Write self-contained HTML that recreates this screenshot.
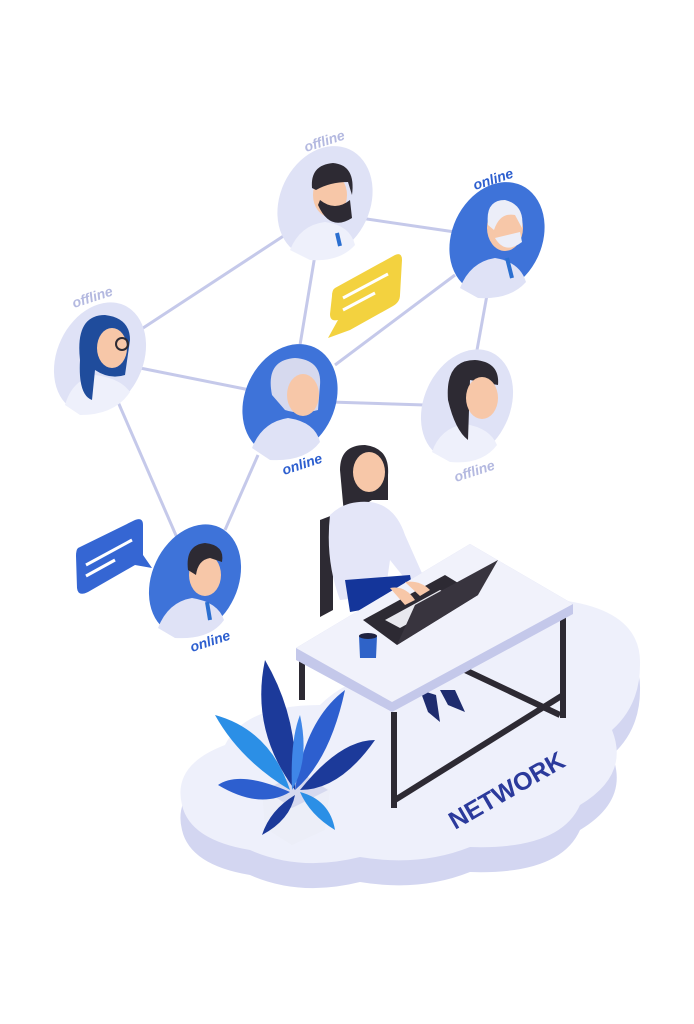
<!DOCTYPE html>
<html><head><meta charset="utf-8"><style>
html,body{margin:0;padding:0;background:#fff;}
svg{display:block}
text{font-family:"Liberation Sans",sans-serif;font-weight:bold;font-style:italic}
</style></head><body>
<svg width="694" height="1024" viewBox="0 0 694 1024" xmlns="http://www.w3.org/2000/svg">
<!-- cloud base -->
<g>
<path d="M182 830 Q172 790 225 770 Q245 730 320 730 Q360 690 430 700 Q470 620 560 625 Q642 635 640 690 Q640 730 612 755 Q630 800 580 830 Q560 875 470 872 Q420 892 360 882 Q300 897 250 875 Q190 865 182 830 Z" fill="#d3d6f1"/>
<path d="M182 805 Q172 765 225 745 Q245 705 320 705 Q360 665 430 675 Q470 595 560 600 Q642 610 640 665 Q640 705 612 730 Q630 775 580 805 Q560 850 470 847 Q420 867 360 857 Q300 872 250 850 Q190 840 182 805 Z" fill="#eef0fb"/>
</g>
<text x="0" y="0" transform="translate(455,830) rotate(-30)" font-size="25" fill="#2b3a9c" style="font-style:normal">NETWORK</text>

<!-- connector lines -->
<g stroke="#c5c9ea" stroke-width="3" fill="none">
<line x1="140" y1="330" x2="285" y2="235"/>
<line x1="315" y1="255" x2="300" y2="345"/>
<line x1="360" y1="218" x2="455" y2="232"/>
<line x1="335" y1="365" x2="455" y2="275"/>
<line x1="140" y1="368" x2="250" y2="390"/>
<line x1="330" y1="402" x2="425" y2="405"/>
<line x1="487" y1="295" x2="477" y2="350"/>
<line x1="115" y1="395" x2="178" y2="540"/>
<line x1="258" y1="455" x2="225" y2="530"/>
</g>

<!-- speech bubbles -->
<path d="M335 288 L395 255 Q402 252 402 260 L400 295 Q400 302 393 306 L350 330 L328 338 L338 320 Q330 322 330 314 L332 296 Q332 290 335 288Z" fill="#f3d23f"/>
<line x1="343" y1="298" x2="388" y2="274" stroke="#fff" stroke-width="3"/>
<line x1="343" y1="310" x2="375" y2="293" stroke="#fff" stroke-width="3"/>
<path d="M78 548 L135 520 Q143 517 143 525 L143 555 L152 568 L135 565 L88 592 Q78 597 77 588 L76 556 Q76 550 78 548Z" fill="#3566d3"/>
<line x1="86" y1="565" x2="132" y2="540" stroke="#fff" stroke-width="3"/>
<line x1="86" y1="576" x2="115" y2="560" stroke="#fff" stroke-width="3"/>

<!-- nodes -->
<g>
 <ellipse cx="325" cy="202" rx="45" ry="58" transform="rotate(25 325 202)" fill="#dfe2f6"/>
 <path d="M290 250 Q300 225 325 222 Q350 225 355 245 Q340 262 310 260Z" fill="#eef0fb"/>
 <ellipse cx="330" cy="195" rx="17" ry="22" fill="#f7c7a8"/>
 <path d="M312 188 Q310 165 333 163 Q356 165 352 195 L348 182 Q330 182 316 190Z" fill="#2d2a33"/>
 <path d="M318 205 Q330 232 352 218 L350 200 Q335 212 320 200Z" fill="#2d2a33"/>
 <line x1="337" y1="233" x2="340" y2="246" stroke="#2b6fd0" stroke-width="4"/>
</g>
<g>
 <ellipse cx="497" cy="238" rx="45" ry="58" transform="rotate(25 497 238)" fill="#3e73d9"/>
 <path d="M460 288 Q470 262 495 258 Q520 262 526 282 Q510 300 478 298Z" fill="#dfe2f6"/>
 <ellipse cx="505" cy="228" rx="18" ry="23" fill="#f7c7a8"/>
 <path d="M488 225 Q485 200 505 200 Q525 205 522 228 L515 215 Q500 212 494 230Z" fill="#eceef8"/>
 <path d="M495 238 Q505 255 522 242 L520 232Z" fill="#eceef8"/>
 <line x1="507" y1="258" x2="512" y2="278" stroke="#2b6fd0" stroke-width="4"/>
</g>
<g>
 <ellipse cx="100" cy="358" rx="43" ry="58" transform="rotate(25 100 358)" fill="#dfe2f6"/>
 <path d="M65 405 Q72 380 95 375 Q120 378 130 392 Q115 415 80 415Z" fill="#eef0fb"/>
 <path d="M80 360 Q75 315 105 315 Q130 318 130 340 L125 375 Q110 380 95 370 L92 400 Q78 395 80 360Z" fill="#1f4c9c"/>
 <ellipse cx="112" cy="348" rx="15" ry="20" fill="#f7c7a8"/>
 <circle cx="122" cy="344" r="6" fill="none" stroke="#2d2a33" stroke-width="2"/>
</g>
<g>
 <ellipse cx="290" cy="400" rx="45" ry="58" transform="rotate(25 290 400)" fill="#3e73d9"/>
 <path d="M252 448 Q262 422 288 418 Q315 422 320 442 Q305 462 270 460Z" fill="#dfe2f6"/>
 <path d="M272 395 Q265 360 295 358 Q322 360 320 385 L318 410 Q300 415 285 410Z" fill="#d6d9ee"/>
 <ellipse cx="303" cy="395" rx="16" ry="21" fill="#f7c7a8"/>
</g>
<g>
 <ellipse cx="467" cy="405" rx="43" ry="58" transform="rotate(25 467 405)" fill="#dfe2f6"/>
 <path d="M432 452 Q440 428 465 424 Q490 428 497 445 Q482 465 450 462Z" fill="#eef0fb"/>
 <path d="M448 400 Q445 360 475 360 Q500 362 498 385 L470 380 L468 440 Q455 430 448 400Z" fill="#2d2a33"/>
 <ellipse cx="482" cy="398" rx="16" ry="21" fill="#f7c7a8"/>
</g>
<g>
 <ellipse cx="195" cy="580" rx="43" ry="58" transform="rotate(25 195 580)" fill="#3e73d9"/>
 <path d="M158 628 Q168 602 192 598 Q218 602 224 620 Q210 640 175 638Z" fill="#dfe2f6"/>
 <ellipse cx="205" cy="575" rx="16" ry="21" fill="#f7c7a8"/>
 <path d="M188 570 Q185 545 205 543 Q225 545 222 562 L210 558 Q198 560 196 575Z" fill="#2d2a33"/>
 <line x1="207" y1="602" x2="210" y2="620" stroke="#2b6fd0" stroke-width="4"/>
</g>

<!-- labels -->
<g font-size="14">
<text x="0" y="0" transform="translate(306,152) rotate(-18)" fill="#b4b9e0">offline</text>
<text x="0" y="0" transform="translate(475,190) rotate(-18)" fill="#2d5fcf">online</text>
<text x="0" y="0" transform="translate(74,308) rotate(-18)" fill="#b4b9e0">offline</text>
<text x="0" y="0" transform="translate(284,475) rotate(-18)" fill="#2d5fcf">online</text>
<text x="0" y="0" transform="translate(456,482) rotate(-18)" fill="#b4b9e0">offline</text>
<text x="0" y="0" transform="translate(192,652) rotate(-18)" fill="#2d5fcf">online</text>
</g>

<!-- chair -->
<path d="M320 520 L333 515 L333 610 L320 617Z" fill="#2d2a33"/>
<!-- woman -->
<path d="M340 470 Q340 445 365 445 Q390 448 388 475 L388 500 L372 500 Q355 510 345 525Z" fill="#2d2a33"/>
<ellipse cx="369" cy="472" rx="16" ry="20" fill="#f7c7a8"/>
<path d="M330 515 Q345 500 370 502 Q395 505 405 535 L425 580 L410 585 L390 560 L385 595 L340 600 Q325 560 330 515Z" fill="#e4e6f8"/>
<path d="M345 580 L410 575 L415 600 L350 612Z" fill="#14359a"/>
<path d="M420 690 L428 712 L440 722 L436 695Z" fill="#1e2c6e"/>
<path d="M440 690 L448 705 L465 712 L455 690Z" fill="#1e2c6e"/>
<!-- desk legs -->
<g stroke="#2d2a33" stroke-width="6" fill="none">
<line x1="302" y1="660" x2="302" y2="700"/>
<line x1="394" y1="712" x2="394" y2="808"/>
<line x1="563" y1="615" x2="563" y2="718"/>
<line x1="395" y1="800" x2="563" y2="695"/>
<line x1="465" y1="670" x2="560" y2="715"/>
</g>
<!-- desk top -->
<path d="M296 648 L470 544 L573 604 L573 614 L392 712 L296 660Z" fill="#c4c8ea"/>
<path d="M296 648 L470 544 L573 604 L392 702Z" fill="#f1f2fb"/>
<!-- laptop -->
<path d="M363 620 L445 575 L478 595 L397 645Z" fill="#2d2a33"/>
<path d="M385 620 L440 590 L455 598 L400 628Z" fill="#e8e8ee"/>
<path d="M397 645 L478 595 L498 560 L415 605Z" fill="#38343e"/>
<path d="M390 588 Q405 585 415 600 L405 605Z" fill="#f7c7a8"/>
<path d="M405 582 Q420 580 430 590 L420 596Z" fill="#f7c7a8"/>
<!-- mug -->
<path d="M359 636 L377 636 L376 658 L360 658Z" fill="#2f63c8"/>
<ellipse cx="368" cy="636" rx="9" ry="3" fill="#1f2240"/>
<!-- plant -->
<path d="M262 790 L300 770 L330 790 L325 830 L292 845 L265 828Z" fill="#eceef8"/>
<path d="M265 790 L300 772 L328 790 L292 808 Z" fill="#d6d9ef"/>
<g>
<path d="M295 790 Q250 730 265 660 Q300 720 295 790Z" fill="#1c3a9a"/>
<path d="M295 790 Q305 720 345 690 Q330 760 295 790Z" fill="#2d5fcf"/>
<path d="M290 790 Q240 760 215 715 Q270 730 290 790Z" fill="#2b8fe6"/>
<path d="M300 790 Q340 740 375 740 Q340 790 300 790Z" fill="#1c3a9a"/>
<path d="M290 792 Q240 770 218 785 Q260 810 290 792Z" fill="#2d5fcf"/>
<path d="M300 792 Q330 800 335 830 Q310 815 300 792Z" fill="#2b8fe6"/>
<path d="M292 790 Q290 740 300 715 Q310 760 292 790Z" fill="#3f86e8"/>
<path d="M295 795 Q270 810 262 835 Q290 820 295 795Z" fill="#1c3a9a"/>
</g>
</svg>
</body></html>
